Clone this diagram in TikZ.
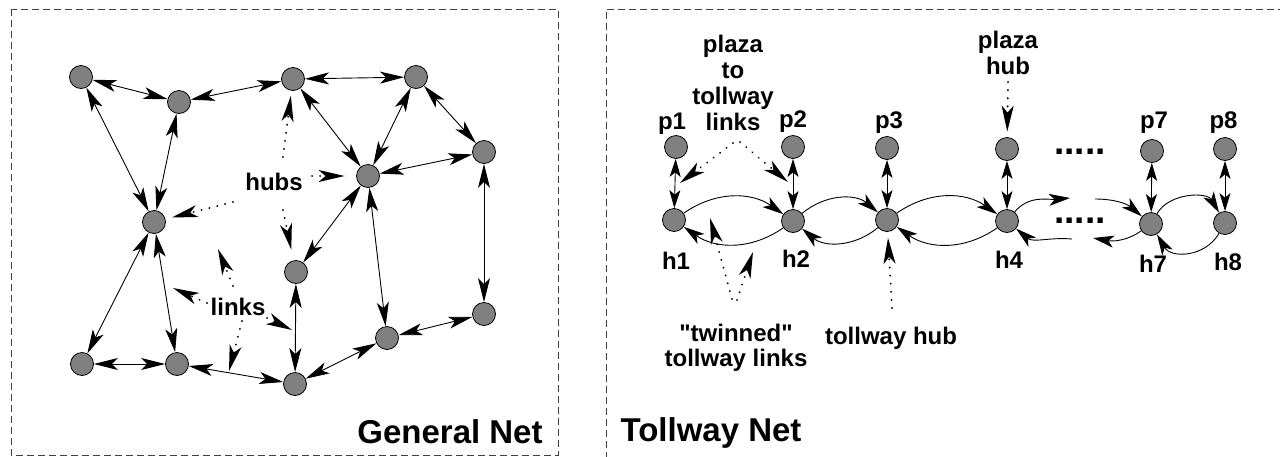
\documentclass[tikz,border=0pt]{standalone}
\usepackage{fontspec}
\setmainfont{Liberation Sans}
\usetikzlibrary{arrows.meta}
\definecolor{nodefill}{RGB}{128,128,128}
\begin{document}
\begin{tikzpicture}[x=1pt,y=1pt,
  netnode/.style={circle,draw=black,line width=0.8pt,fill=nodefill,minimum size=23pt,inner sep=0pt},
  lnk/.style={line width=0.9pt,{Stealth[length=24pt,width=12pt,inset=6pt]}-{Stealth[length=24pt,width=12pt,inset=6pt]}},
  plnk/.style={line width=0.9pt,{Stealth[length=18pt,width=11pt,inset=4.5pt]}-{Stealth[length=18pt,width=11pt,inset=4.5pt]}},
  tlnk/.style={line width=0.9pt,-{Stealth[length=21pt,width=12pt,inset=5.5pt]}},
  ptr/.style={line width=2pt,line cap=round,dash pattern=on 0.1pt off 8pt,-{Stealth[length=26pt,width=12pt,inset=7pt]}},
  lbl/.style={font=\fontsize{24}{26}\selectfont\bfseries,inner sep=0pt,align=center},
  ttl/.style={font=\fontsize{33}{36}\selectfont\bfseries,inner sep=0pt},
  dotrow/.style={font=\fontsize{37}{40}\selectfont\bfseries,inner sep=0pt,anchor=base west},
  frame/.style={draw=black!75,line width=0.8pt,dash pattern=on 7pt off 4pt}
]
\useasboundingbox (0,0) rectangle (1280,-456);
% frames
\draw[frame] (11,-9) rectangle (558,-455);
\draw[frame] (1285,-9) -- (606,-9) -- (606,-460);

% ---------- General Net ----------
\node[netnode] (A) at (81,-77) {};
\node[netnode] (B) at (179,-102) {};
\node[netnode] (C) at (293,-79) {};
\node[netnode] (D) at (416,-77) {};
\node[netnode] (E) at (484,-152) {};
\node[netnode] (F) at (368,-176) {};
\node[netnode] (G) at (154,-222) {};
\node[netnode] (H) at (296,-272) {};
\node[netnode] (I) at (484,-314) {};
\node[netnode] (J) at (387,-338) {};
\node[netnode] (K) at (82,-364) {};
\node[netnode] (L) at (177,-364) {};
\node[netnode] (M) at (295,-384) {};

\draw[lnk] (A) -- (B);
\draw[lnk] (B) -- (C);
\draw[lnk] (C) -- (D);
\draw[lnk] (A) -- (G);
\draw[lnk] (B) -- (G);
\draw[lnk] (C) -- (F);
\draw[lnk] (D) -- (F);
\draw[lnk] (D) -- (E);
\draw[lnk] (E) -- (F);
\draw[lnk] (E) -- (I);
\draw[lnk] (F) -- (H);
\draw[lnk] (F) -- (J);
\draw[lnk] (G) -- (K);
\draw[lnk] (G) -- (L);
\draw[lnk] (K) -- (L);
\draw[lnk] (L) -- (M);
\draw[lnk] (H) -- (M);
\draw[lnk] (M) -- (J);
\draw[lnk] (J) -- (I);

\node[lbl] (hubs) at (274,-182) {hubs};
\node[lbl] (links) at (238,-307) {links};
\node[ttl] (gnet) at (450,-432) {General Net};

\coordinate (hC) at (283,-157);
\coordinate (hF) at (312,-176);
\coordinate (hG) at (233,-202);
\coordinate (hH) at (283,-210);
\draw[ptr,shorten >=5pt] (hC) -- (C);
\draw[ptr,shorten >=11.5pt] (hF) -- (F);
\draw[ptr,shorten >=6.5pt] (hG) -- (G);
\draw[ptr,shorten >=11pt] (hH) -- (H);

\coordinate (lUs) at (233,-286);
\coordinate (lUt) at (218,-249);
\coordinate (lLs) at (207,-303);
\coordinate (lLt) at (173,-288);
\coordinate (lRs) at (267,-318);
\coordinate (lRt) at (292,-330);
\coordinate (lDs) at (242,-321);
\coordinate (lDt) at (229,-371);
\draw[ptr] (lUs) -- (lUt);
\draw[ptr] (lLs) -- (lLt);
\draw[ptr] (lRs) -- (lRt);
\draw[ptr] (lDs) -- (lDt);

% ---------- Tollway Net ----------
\node[netnode] (p1) at (676,-147) {};
\node[netnode] (p2) at (793,-147) {};
\node[netnode] (p3) at (887,-148) {};
\node[netnode] (p4) at (1007,-149) {};
\node[netnode] (p7) at (1152,-151) {};
\node[netnode] (p8) at (1225,-149) {};
\node[netnode] (h1) at (674,-220) {};
\node[netnode] (h2) at (793,-221) {};
\node[netnode] (h3) at (887,-220) {};
\node[netnode] (h4) at (1007,-221) {};
\node[netnode] (h7) at (1151,-224) {};
\node[netnode] (h8) at (1225,-223) {};

\draw[plnk] (p1) -- (h1);
\draw[plnk] (p2) -- (h2);
\draw[plnk] (p3) -- (h3);
\draw[plnk] (p4) -- (h4);
\draw[plnk] (p7) -- (h7);
\draw[plnk] (p8) -- (h8);

\draw[tlnk] (h1) to[out=35,in=145] (h2);
\draw[tlnk] (h2) to[out=-145,in=-35] (h1);
\draw[tlnk] (h2) to[out=40,in=140] (h3);
\draw[tlnk] (h3) to[out=-140,in=-40] (h2);
\draw[tlnk] (h3) to[out=35,in=145] (h4);
\draw[tlnk] (h4) to[out=-145,in=-35] (h3);
\coordinate (outU) at (1070,-198);
\coordinate (outL) at (1072,-239);
\coordinate (inU) at (1095,-199);
\coordinate (inL) at (1093,-238);
\draw[tlnk] (h4) to[out=50,in=185] (outU);
\draw[tlnk] (outL) to[out=175,in=-40] (h4);
\draw[tlnk] (inU) to[out=0,in=140] (h7);
\draw[tlnk] (h7) to[out=-145,in=-10] (inL);
\draw[tlnk] (h7) to[out=60,in=120] (h8);
\draw[tlnk] (h8) to[out=-120,in=-60,looseness=1.15] (h7);

\node[lbl] (lp1) at (672,-124) {p1};
\node[lbl] (lp2) at (793,-122) {p2};
\node[lbl] (lp3) at (889,-122.5) {p3};
\node[lbl] (lp7) at (1154,-123) {p7};
\node[lbl] (lp8) at (1223.5,-122.5) {p8};
\node[lbl] (lh1) at (676,-261) {h1};
\node[lbl] (lh2) at (796,-258.5) {h2};
\node[lbl] (lh4) at (1009,-260) {h4};
\node[lbl] (lh7) at (1153,-263.5) {h7};
\node[lbl] (lh8) at (1228,-261.5) {h8};

\node[dotrow] (dots1) at (1054,-154) {.....};
\node[dotrow] (dots2) at (1054,-223) {.....};

\node[lbl] (ptl) at (733,-83.3) {plaza\\to\\tollway\\links};
\node[lbl] (phub) at (1008,-53.3) {plaza\\hub};
\node[lbl] (twin) at (736,-348) {\textquotedbl twinned\textquotedbl\\[-1pt]tollway links};
\node[lbl] (thub) at (891,-338.5) {tollway hub};
\node[ttl] (tnet) at (711,-433) {Tollway Net};

\coordinate (ptlS1) at (733,-143);
\coordinate (ptlT1) at (680,-183);
\coordinate (ptlS2) at (740,-142);
\coordinate (ptlT2) at (788,-182);
\draw[ptr] (ptlS1) -- (ptlT1);
\draw[ptr] (ptlS2) -- (ptlT2);

\coordinate (twS1) at (732,-299);
\coordinate (twT1) at (710,-218);
\coordinate (twS2) at (737,-300);
\coordinate (twT2) at (753,-252);
\draw[ptr] (twS1) -- (twT1);
\draw[ptr] (twS2) -- (twT2);

\coordinate (thS) at (892,-308);
\draw[ptr,shorten >=6pt] (thS) -- (h3);
\coordinate (phS) at (1008,-82);
\draw[ptr,shorten >=5.5pt] (phS) -- (p4);
\end{tikzpicture}
\end{document}
